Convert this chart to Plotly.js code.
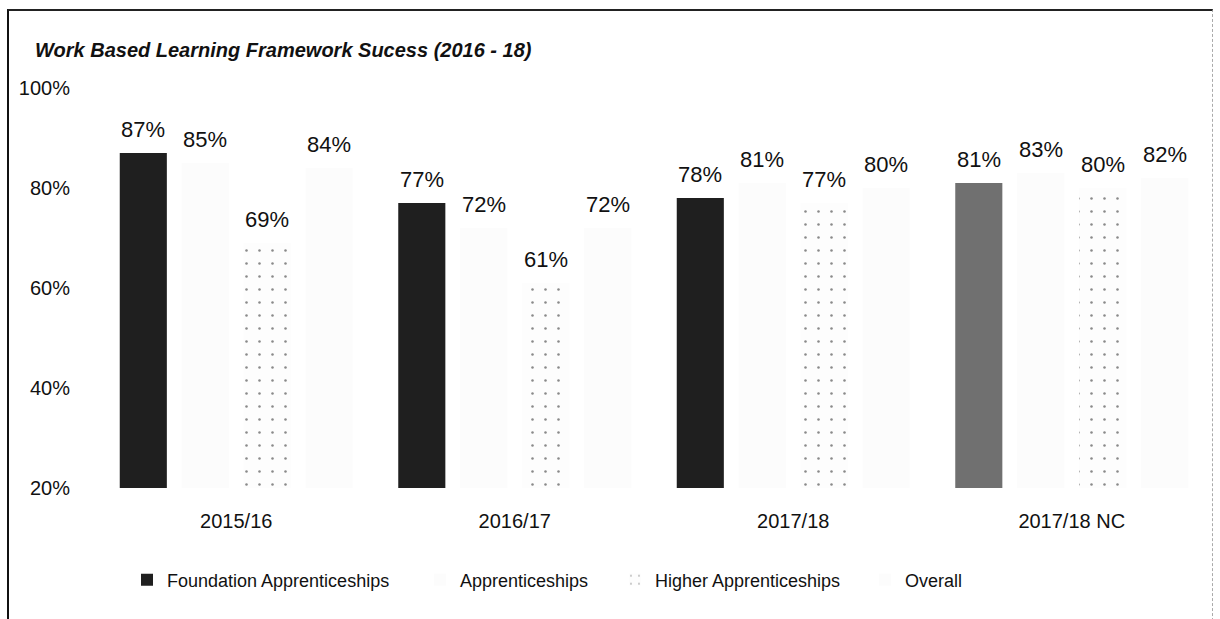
<!DOCTYPE html>
<html>
<head>
<meta charset="utf-8">
<script src="https://cdn.plot.ly/plotly-3.0.1.min.js"></script>
<style>
  html, body { margin: 0; padding: 0; background: #ffffff; }
  #wrap { position: relative; width: 1220px; height: 619px; overflow: hidden; }
  #chart { position: absolute; left: 0; top: 0; width: 1220px; height: 619px; }
  #frame { position: absolute; left: 7px; top: 9px; width: 1203px; height: 640px;
           border-left: 2px solid #111; border-top: 2px solid #222; border-right: 1px dashed #aaa;
           pointer-events: none; }
</style>
</head>
<body>
<div id="wrap">
  <div id="chart"></div>
  <div id="frame"></div>
</div>
<script>
// ---- data ----
const categories = ['2015/16', '2016/17', '2017/18', '2017/18 NC'];
const seriesNames = ['Foundation Apprenticeships', 'Apprenticeships', 'Higher Apprenticeships', 'Overall'];
const foundationValues = [87, 77, 78, 81];
const apprenticeshipValues = [85, 72, 81, 83];
const higherValues = [69, 61, 77, 80];
const overallValues = [84, 72, 80, 82];
const yTickValues = [20, 40, 60, 80, 100];
const yTickLabels = ['20%', '40%', '60%', '80%', '100%'];

const seriesValues = [foundationValues, apprenticeshipValues, higherValues, overallValues];

// ---- styling ----
const FONT = 'Liberation Sans, Arial, sans-serif';
const W = 1220, H = 619;
const margin = { l: 97, r: 9, t: 88, b: 131 };
const bargap = 0.11, bargroupgap = 0.24;

const styles = [
  { color: ['#1f1f1f', '#1f1f1f', '#1f1f1f', '#707070'], pattern: { shape: '' } },
  { color: '#fcfcfc', pattern: { shape: '' } },
  { color: '#fdfdfd', pattern: { shape: '.', fgcolor: '#8a8a8a', bgcolor: '#fdfdfd', size: 13, solidity: 0.03 } },
  { color: '#fcfcfc', pattern: { shape: '' } }
];

const legendNames = ['legend', 'legend2', 'legend3', 'legend4'];
const legendX = [127, 420, 615, 865];

const traces = seriesNames.map((name, i) => ({
  type: 'bar',
  name: name,
  x: categories,
  y: seriesValues[i],
  marker: { color: styles[i].color, pattern: styles[i].pattern, line: { width: 0 } },
  legend: legendNames[i],
  hoverinfo: 'skip'
}));

// value labels anchored to each bar via data coordinates
const plotW = W - margin.l - margin.r;
const slot = plotW / categories.length * (1 - bargap) / seriesNames.length;
const annotations = [];
seriesNames.forEach((name, i) => {
  categories.forEach((c, j) => {
    annotations.push({
      x: c, y: seriesValues[i][j], xref: 'x', yref: 'y',
      text: seriesValues[i][j] + '%',
      showarrow: false, yanchor: 'bottom', xanchor: 'center',
      xshift: (i - (seriesNames.length - 1) / 2) * slot,
      yshift: 9,
      font: { family: FONT, size: 22, color: '#111' }
    });
  });
});

const legendCommon = {
  orientation: 'h', xref: 'container', yref: 'container',
  y: 1 - 580 / H, yanchor: 'middle', xanchor: 'left',
  font: { family: FONT, size: 18, color: '#111' },
  bgcolor: 'rgba(0,0,0,0)', itemwidth: 30, itemclick: false, itemdoubleclick: false
};

const layout = {
  width: W, height: H,
  margin: margin,
  paper_bgcolor: '#ffffff', plot_bgcolor: '#ffffff',
  barmode: 'group', bargap: bargap, bargroupgap: bargroupgap,
  title: {
    text: '<b><i>Work Based Learning Framework Sucess (2016 - 18)</i></b>',
    xref: 'container', yref: 'container', x: 35 / W, xanchor: 'left',
    y: 1 - 50 / H, yanchor: 'middle',
    font: { family: FONT, size: 20, color: '#111' }
  },
  xaxis: {
    type: 'category', showgrid: false, zeroline: false, showline: false, ticks: '',
    tickfont: { family: FONT, size: 20, color: '#111' }, ticklabelstandoff: 19
  },
  yaxis: {
    range: [20, 100], tickvals: yTickValues, ticktext: yTickLabels,
    showgrid: false, zeroline: false, showline: false, ticks: '',
    tickfont: { family: FONT, size: 20, color: '#111' }, ticklabelstandoff: 26
  },
  annotations: annotations,
  showlegend: true
};
legendNames.forEach((ln, i) => {
  layout[ln] = Object.assign({}, legendCommon, { x: legendX[i] / W });
});

Plotly.newPlot('chart', traces, layout, { displayModeBar: false, staticPlot: true });
</script>
</body>
</html>
